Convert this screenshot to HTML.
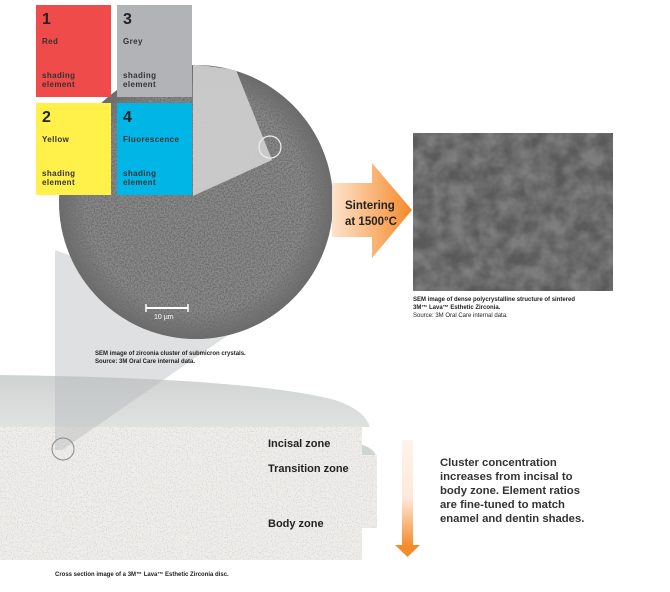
<!DOCTYPE html>
<html><head><meta charset="utf-8"><style>
html,body{margin:0;padding:0;background:#fff;}
body{width:670px;height:592px;position:relative;overflow:hidden;font-family:"Liberation Sans",sans-serif;}
.t{position:absolute;color:#222;}
.box{position:absolute;width:75px;height:92px;}
.box .n{position:absolute;left:6px;top:6px;font-size:16px;font-weight:bold;color:#222;}
.box .l{position:absolute;left:6px;top:32px;font-size:8px;font-weight:bold;color:#333;letter-spacing:.4px;}
.box .s{position:absolute;left:6px;top:66px;font-size:8px;font-weight:bold;color:#333;line-height:9px;letter-spacing:.4px;}
</style></head><body>
<svg width="670" height="592" style="position:absolute;left:0;top:0">
<defs>
<filter id="noise" x="0" y="0" width="100%" height="100%">
<feTurbulence type="fractalNoise" baseFrequency="0.7" numOctaves="2" seed="3"/>
<feColorMatrix type="matrix" values="0 0 0 0 0.15  0 0 0 0 0.15  0 0 0 0 0.15  0 0 0 -3 1.9"/>
</filter>
<filter id="sem" x="0" y="0" width="100%" height="100%">
<feTurbulence type="fractalNoise" baseFrequency="0.06" numOctaves="3" seed="7"/>
<feColorMatrix type="matrix" values="0 0 0 0 0.3  0 0 0 0 0.3  0 0 0 0 0.3  0 0 0 -2 1.5"/>
</filter>
<filter id="speck" x="0" y="0" width="100%" height="100%">
<feTurbulence type="fractalNoise" baseFrequency="0.8" numOctaves="1" seed="2"/>
<feColorMatrix type="matrix" values="0 0 0 0 0.5  0 0 0 0 0.5  0 0 0 0 0.5  0 0 0 -9 4.2"/>
</filter>
<clipPath id="circ"><circle cx="196" cy="202" r="137"/></clipPath>
<clipPath id="discclip"><path d="M0,427 L362,427 L362,455 L377,455 L377,528 L362,528 L362,560 L0,560 Z"/></clipPath>
<linearGradient id="org" x1="0" x2="1"><stop offset="0" stop-color="#fde3cc"/><stop offset="1" stop-color="#f58a2a"/></linearGradient>
<linearGradient id="vorg" x1="0" y1="0" x2="0" y2="1"><stop offset="0" stop-color="#fef3ea"/><stop offset="0.55" stop-color="#fde9d9"/><stop offset="1" stop-color="#f68b2c"/></linearGradient>
<linearGradient id="cap" x1="0" y1="0" x2="0" y2="1"><stop offset="0" stop-color="#cfd3d1"/><stop offset="1" stop-color="#dfe2e0"/></linearGradient>
<radialGradient id="sph" cx="0.5" cy="0.5" r="0.5"><stop offset="0.8" stop-color="#8a8a8a"/><stop offset="1" stop-color="#6a6a6a"/></radialGradient>
</defs>
<!-- disc -->
<path d="M0,375 Q250,378 335,400 Q365,410 370,427 L0,427 Z" fill="url(#cap)"/>
<path d="M362,445 Q374,448 377,458 L362,458 Z" fill="#cfd3d1"/>
<path d="M0,427 L362,427 L362,455 L377,455 L377,528 L362,528 L362,560 L0,560 Z" fill="#eeedea"/>
<rect x="0" y="427" width="377" height="133" fill="#000" filter="url(#speck)" opacity="0.35" clip-path="url(#discclip)"/>
<!-- funnel -->
<polygon points="55,250 250,320 62,450 55,450" fill="#b8babc" opacity="0.45"/>
<!-- sphere -->
<circle cx="196" cy="202" r="137" fill="url(#sph)"/>
<rect x="59" y="65" width="274" height="274" fill="#000" filter="url(#noise)" clip-path="url(#circ)"/>
<polygon points="193,64 236,70 272,160 193,196" fill="#cfcfcf" opacity="0.92" clip-path="url(#circ)"/>
<circle cx="270" cy="147" r="11" fill="none" stroke="#eee" stroke-width="1.2"/>
<circle cx="63" cy="449" r="11" fill="none" stroke="#888" stroke-width="1"/>
<line x1="146" y1="308" x2="188" y2="308" stroke="#fff" stroke-width="2"/>
<line x1="146" y1="304" x2="146" y2="312" stroke="#fff" stroke-width="1.5"/>
<line x1="188" y1="304" x2="188" y2="312" stroke="#fff" stroke-width="1.5"/>
<text x="154" y="319" font-size="7" fill="#fff" font-family="Liberation Sans">10 µm</text>
<!-- orange arrow -->
<polygon points="332,183 372,183 372,163 412,210 372,258 372,237 332,237" fill="url(#org)"/>
<!-- SEM -->
<rect x="413" y="133" width="200" height="158" fill="#5a5a5a"/>
<rect x="413" y="133" width="200" height="158" fill="#000" filter="url(#sem)" opacity="0.6"/>
<!-- vertical arrow -->
<rect x="402" y="440" width="11" height="106" fill="url(#vorg)"/>
<polygon points="395,545 420,545 407.5,557" fill="#f68b2c"/>
</svg>

<div class="box" style="left:36px;top:5px;background:#ef4b4b"><div class="n">1</div><div class="l">Red</div><div class="s">shading<br>element</div></div>
<div class="box" style="left:117px;top:5px;background:#b2b3b6"><div class="n">3</div><div class="l">Grey</div><div class="s">shading<br>element</div></div>
<div class="box" style="left:36px;top:103px;background:#fff04a"><div class="n">2</div><div class="l">Yellow</div><div class="s">shading<br>element</div></div>
<div class="box" style="left:117px;top:103px;background:#00b6e6"><div class="n">4</div><div class="l">Fluorescence</div><div class="s">shading<br>element</div></div>

<div class="t" style="left:345px;top:198px;font-size:11.5px;font-weight:bold;line-height:16px">Sintering<br>at 1500°C</div>
<div class="t" style="left:413px;top:296px;font-size:6px;font-weight:bold;line-height:8px">SEM image of dense polycrystalline structure of sintered<br>3M™ Lava™ Esthetic Zirconia.<br><span style="font-weight:normal">Source: 3M Oral Care internal data.</span></div>
<div class="t" style="left:95px;top:350px;font-size:6px;font-weight:bold;line-height:8px">SEM image of zirconia cluster of submicron crystals.<br>Source: 3M Oral Care internal data.</div>
<div class="t" style="left:268px;top:438px;font-size:11px;font-weight:bold">Incisal zone</div>
<div class="t" style="left:268px;top:463px;font-size:11px;font-weight:bold">Transition zone</div>
<div class="t" style="left:268px;top:518px;font-size:11px;font-weight:bold">Body zone</div>
<div class="t" style="left:440px;top:456px;font-size:11.3px;font-weight:bold;line-height:14px;color:#333">Cluster concentration<br>increases from incisal to<br>body zone. Element ratios<br>are fine-tuned to match<br>enamel and dentin shades.</div>
<div class="t" style="left:55px;top:572px;font-size:6px;font-weight:bold">Cross section image of a 3M™ Lava™ Esthetic Zirconia disc.</div>
</body></html>
